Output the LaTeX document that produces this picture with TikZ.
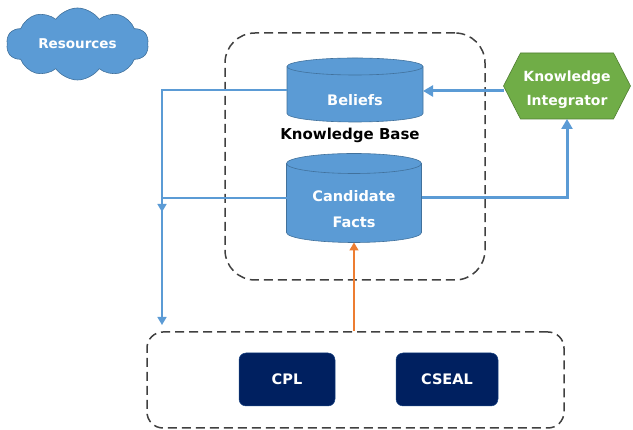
\documentclass[tikz,border=0pt]{standalone}
\usepackage{fontspec}
\setmainfont{DejaVu Sans}
\usetikzlibrary{shapes.symbols,backgrounds,arrows.meta}
\definecolor{blu}{HTML}{5B9BD5}
\definecolor{bluborder}{HTML}{41719C}
\definecolor{grn}{HTML}{70AD47}
\definecolor{grnborder}{HTML}{507E32}
\definecolor{navy}{HTML}{002060}
\definecolor{orng}{HTML}{ED7D31}
\definecolor{dgray}{HTML}{404040}
\newcommand\drawcyl[3]{%
  \filldraw[fill=blu,draw=bluborder,line width=0.6pt]
    ([yshift=-#3pt]#1.north west) -- ([yshift=#3pt]#1.south west)
    arc[start angle=180,end angle=360,x radius=#2pt,y radius=#3pt]
    -- ([yshift=-#3pt]#1.north east)
    arc[start angle=0,end angle=180,x radius=#2pt,y radius=#3pt] -- cycle;
  \draw[draw=bluborder,line width=0.6pt] ([yshift=-#3pt]#1.north west)
    arc[start angle=180,end angle=360,x radius=#2pt,y radius=#3pt];
}
\tikzset{
  lbl/.style={text=white, font=\bfseries\fontsize{14.5}{25}\selectfont, align=center},
  cylbox/.style={draw=none, inner sep=0pt, outer sep=0pt},
  dbox/.style={draw=dgray, line width=1.5pt, dash pattern=on 9pt off 5pt, inner sep=0pt},
  srcbox/.style={lbl, fill=navy, draw=navy!70!blu, line width=0.5pt, rounded corners=7pt, inner sep=0pt},
  conn/.style={draw=blu, line width=1.6pt, -{Triangle[length=8pt,width=9pt]}},
  bigconn/.style={draw=blu, line width=3pt, -{Triangle[length=10pt,width=11pt]}},
  oconn/.style={draw=orng, line width=1.4pt, -{Triangle[length=8pt,width=9pt]}}
}
\begin{document}
\begin{tikzpicture}[x=1pt,y=1pt]
\useasboundingbox (0,0) rectangle (633,430);
% containers
\node[dbox, rounded corners=30pt, minimum width=260pt, minimum height=247pt] (kb) at (355,273.5) {};
\node[dbox, rounded corners=16pt, minimum width=417pt, minimum height=96pt] (src) at (355.5,50) {};
% cylinders
\node[cylbox, minimum width=136pt, minimum height=64pt] (bel) at (355,340) {};
\drawcyl{bel}{68}{8.5}
\node[lbl] (beltxt) at ([yshift=-10pt]bel.center) {Beliefs};
\node[cylbox, minimum width=135pt, minimum height=89pt] (cf) at (354,232) {};
\drawcyl{cf}{67.5}{10}
\node[lbl, font=\bfseries\fontsize{14.5}{26}\selectfont] (cftxt) at ([yshift=-11pt]cf.center) {Candidate\\Facts};
\node[font=\bfseries\fontsize{15}{17}\selectfont, text=black] (kbl) at (350,295) {Knowledge Base};
% integrator
\node[cylbox, minimum width=127pt, minimum height=66pt] (ki) at (567,344) {};
\filldraw[fill=grn, draw=grnborder, line width=0.6pt] (ki.west) -- ([xshift=17pt]ki.north west) -- ([xshift=-17pt]ki.north east) -- (ki.east) -- ([xshift=-17pt]ki.south east) -- ([xshift=17pt]ki.south west) -- cycle;
\node[lbl, font=\bfseries\fontsize{14}{24}\selectfont] (kitxt) at ([yshift=-4pt]ki.center) {Knowledge\\Integrator};
% cloud
\node[cloud, cloud puffs=10, cloud puff arc=110, aspect=2.2, fill=blu, draw=bluborder, line width=0.6pt, minimum width=142pt, minimum height=72pt, lbl, font=\bfseries\fontsize{13.5}{16}\selectfont] (res) at (77.5,386) {Resources};
% sources
\node[srcbox, minimum width=96pt, minimum height=53pt] (cpl) at (287,50.5) {CPL};
\node[srcbox, minimum width=102pt, minimum height=53pt] (cseal) at (447,50.5) {CSEAL};
% connectors
\coordinate (j1) at (162,218);
\coordinate (j2) at (162,105);
\draw[conn] (bel.west) -| (j1);
\draw[conn] (cf.west) -| (j2);
\draw[bigconn] ([yshift=-5pt]ki.west) -- ([yshift=-5pt]ki.west -| bel.east);
\draw[bigconn] (cf.east) -| (ki.south);
\draw[oconn] (cf.south |- src.north) -- (cf.south);
\end{tikzpicture}
\end{document}
